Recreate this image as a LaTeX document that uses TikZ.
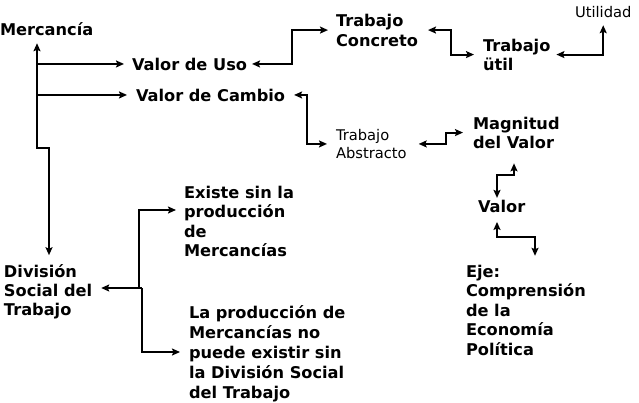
\documentclass[tikz,border=0pt]{standalone}
\usepackage{fontspec}
\setmainfont{DejaVu Sans}
\usetikzlibrary{arrows.meta}
\begin{document}
\begin{tikzpicture}[x=1pt,y=-1pt,
  myarr/.tip={Stealth[length=8pt,width=7pt,inset=1.5pt]},
  lbl/.style={inner sep=0pt, outer sep=0pt, font=\bfseries\fontsize{16.2}{19.5}\selectfont, align=left},
  sml/.style={inner sep=0pt, outer sep=0pt, font=\fontsize{14.7}{17.5}\selectfont, align=left},
  con/.style={line width=1.9pt, myarr-myarr},
  one/.style={line width=1.9pt, -myarr}]
\useasboundingbox (0,0) rectangle (639,402);

\node[lbl, anchor=base west] (merc) at (0,35) {Mercancía};
\node[lbl, anchor=base west] (vuso) at (132,70) {Valor de Uso};
\node[lbl, anchor=base west] (vcam) at (136,101) {Valor de Cambio};
\node[lbl, anchor=north west, font=\bfseries\fontsize{16.2}{20}\selectfont] (tc) at (336,13.8) {Trabajo\\Concreto};
\node[lbl, anchor=north west, font=\bfseries\fontsize{16.2}{19}\selectfont] (tutil) at (483,38.8) {Trabajo\\ütil};
\node[sml, anchor=base west] (util) at (575,17) {Utilidad};
\node[sml, anchor=north west] (tabs) at (336,129.5) {Trabajo\\Abstracto};
\node[lbl, anchor=north west, font=\bfseries\fontsize{16.2}{19}\selectfont] (mag) at (473,116.8) {Magnitud\\del Valor};
\node[lbl, anchor=base west] (valor) at (478,212.7) {Valor};
\node[lbl, anchor=north west] (eje) at (466,264.8) {Eje:\\Comprensión\\de la\\Economía\\Política};
\node[lbl, anchor=north west] (exi) at (184,185.8) {Existe sin la\\producción\\de\\Mercancías};
\node[lbl, anchor=north west, font=\bfseries\fontsize{16.2}{19}\selectfont] (div) at (4,264.2) {División\\Social del\\Trabajo};
\node[lbl, anchor=north west, font=\bfseries\fontsize{16.2}{20}\selectfont] (lap) at (189,305.2) {La producción de\\Mercancías no\\puede existir sin\\la División Social\\del Trabajo};

\coordinate (m1) at (37,148);
\coordinate (m2) at (49,148);
\draw[con, shorten <=8pt, shorten >=9pt] (m1 |- merc.south) -- (m1) -- (m2) -- (m2 |- div.north);
\draw[one, shorten >=8pt] (m1 |- vuso.west) -- (vuso.west);
\draw[one, shorten >=9pt] (m1 |- vcam.west) -- (vcam.west);

\draw[con, shorten <=5pt, shorten >=8pt] (vuso.east) -- ++(45,0) |- (tc.west);
\draw[con, shorten <=10pt, shorten >=9pt] (tc.east) -- ++(33,0) |- (tutil.west);
\draw[con, shorten <=6pt, shorten >=8pt] (tutil.east) -| (util.south);
\draw[con, shorten <=9pt, shorten >=9pt] (vcam.east) -- ++(22,0) |- (tabs.west);
\draw[con, shorten <=12pt, shorten >=10pt] (tabs.east) -- ++(39,0) |- (mag.west);

\coordinate (k1) at (514,175);
\coordinate (k2) at (497,175);
\draw[con, shorten <=15pt, shorten >=2.5pt] (k1 |- mag.south) -- (k1) -- (k2) -- (k2 |- valor.north);
\coordinate (k3) at (497,237);
\coordinate (k4) at (535,237);
\draw[con, shorten <=9pt, shorten >=9pt] (k3 |- valor.south) -- (k3) -- (k4) -- (k4 |- eje.north);

\coordinate (d1) at (142,288);
\coordinate (d0) at (139,288);
\coordinate (e1) at (139,210);
\coordinate (e2) at (142,352);
\draw[one, shorten >=9pt] (d1) -- (d1 -| div.east);
\draw[one, shorten >=8pt] (d0) -- (e1) -- (e1 -| exi.west);
\draw[one, shorten >=9pt] (d1) -- (e2) -- (e2 -| lap.west);
\end{tikzpicture}
\end{document}
